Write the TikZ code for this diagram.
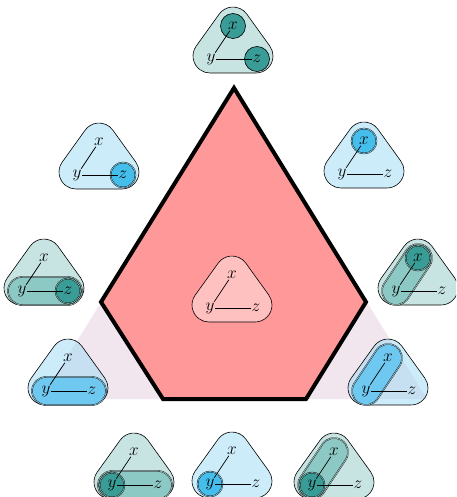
\documentclass[tikz,border=0pt]{standalone}
\definecolor{tealBG}{RGB}{145,201,197}
\definecolor{blueBG}{RGB}{155,217,245}
\definecolor{tealDark}{RGB}{58,156,150}
\definecolor{tealMid}{RGB}{140,200,196}
\definecolor{blueDark}{RGB}{70,190,236}
\definecolor{blueMid}{RGB}{110,200,240}
\definecolor{pinkNode}{RGB}{255,192,192}
\definecolor{pentaFill}{RGB}{255,153,153}
\definecolor{bgTri}{RGB}{242,230,238}
\tikzset{
  lbl/.style={font=\fontsize{17}{20}\selectfont, inner sep=0.8pt},
  edgeline/.style={line width=0.7pt},
  hull/.style={draw=black, line width=0.6pt},
  hlsingle/.style={draw=black, line width=0.6pt, fill=#1},
  hldouble/.style={draw=black, line width=0.4pt, double=#1!60!white, double distance=0.6pt, fill=#1},
}
% #1 name, #2 shift, #3 fill options, #4 highlights
\newcommand\TriNode[4]{%
  \begin{scope}[shift={#2}]
    \path[hull, #3] (-1,-14) -- (45,-14) arc[start angle=-90, end angle=35.7, radius=17pt]
      -- (35.8,44.9) arc[start angle=35.7, end angle=144.3, radius=17pt]
      -- (-14.8,12.9) arc[start angle=144.3, end angle=270, radius=17pt] -- cycle;
    #4
    \node[lbl] (#1x) at (22,33) {$x$};
    \node[lbl] (#1y) at (0,0) {$y$};
    \node[lbl] (#1z) at (46,0) {$z$};
    \draw[edgeline] (#1x) -- (#1y);
    \draw[edgeline] (#1y) -- (#1z);
  \end{scope}}
\newcommand\HLc[3]{\path[#3] #1 circle[radius=12.5pt];}
\newcommand\HLyz[1]{\path[hldouble=#1] (0,-14) -- (46,-14) arc[start angle=-90, end angle=90, radius=14pt]
   -- (0,14) arc[start angle=90, end angle=270, radius=14pt] -- cycle;}
\newcommand\HLyx[1]{\path[hldouble=#1] (11.65,-7.77) -- (33.65,25.23) arc[start angle=-33.69, end angle=146.31, radius=14pt]
   -- (-11.65,7.77) arc[start angle=146.31, end angle=326.31, radius=14pt] -- cycle;}
\begin{document}
\begin{tikzpicture}[x=1pt,y=1pt]
\useasboundingbox (0,0) rectangle (456,-497);
\begin{scope}
\clip (0,0) rectangle (456,-497);
% background triangle
\fill[bgTri] (234,-88) -- (427,-399) -- (41,-399) -- cycle;
% pentagon
\draw[line width=4pt, fill=pentaFill, line join=miter] (234,-88) -- (366,-302) -- (306,-399) -- (163,-399) -- (101,-302) -- cycle;
% nodes
\TriNode{nt}{(211,-59)}{fill=tealBG, fill opacity=0.5}{\HLc{(22,33)}{tealDark}{hlsingle=tealDark}\HLc{(46,0)}{tealDark}{hlsingle=tealDark}}
\TriNode{nul}{(77,-175)}{fill=blueBG, fill opacity=0.5}{\HLc{(46,0)}{blueDark}{hldouble=blueDark}}
\TriNode{nur}{(342,-174)}{fill=blueBG, fill opacity=0.5}{\HLc{(22,33)}{blueDark}{hldouble=blueDark}}
\TriNode{nml}{(22,-291)}{fill=tealBG, fill opacity=0.5}{\HLyz{tealMid}\HLc{(46,0)}{tealDark}{hldouble=tealDark}}
\TriNode{nmr}{(396,-291)}{fill=tealBG, fill opacity=0.5}{\HLyx{tealMid}\HLc{(22,33)}{tealDark}{hldouble=tealDark}}
\TriNode{nll}{(46,-391)}{fill=blueBG, fill opacity=0.5}{\HLyz{blueMid}}
\TriNode{nlr}{(366,-391)}{fill=blueBG, fill opacity=0.5}{\HLyx{blueMid}}
\TriNode{nbl}{(112,-485)}{fill=tealBG, fill opacity=0.5}{\HLyz{tealMid}\HLc{(0,0)}{tealDark}{hldouble=tealDark}}
\TriNode{nbc}{(210,-484)}{fill=blueBG, fill opacity=0.5}{\HLc{(0,0)}{blueDark}{hldouble=blueDark}}
\TriNode{nbr}{(312,-485)}{fill=tealBG, fill opacity=0.5}{\HLyx{tealMid}\HLc{(0,0)}{tealDark}{hldouble=tealDark}}
\TriNode{nc}{(210,-308)}{fill=pinkNode}{}
\end{scope}
\end{tikzpicture}
\end{document}
